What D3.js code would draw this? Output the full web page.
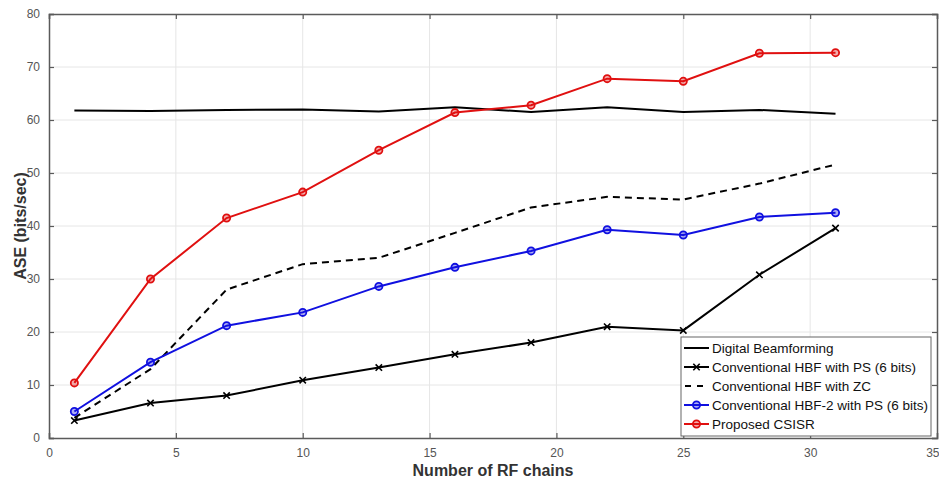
<!DOCTYPE html>
<html><head><meta charset="utf-8">
<script src="https://cdn.jsdelivr.net/npm/d3@7"></script>
<style>body{margin:0;background:#fff;}svg{display:block;font-family:"Liberation Sans",Arial,sans-serif;}</style>
</head><body>
<svg id="c" width="939" height="481"></svg>
<script>
const rfChains = [1,4,7,10,13,16,19,22,25,28,31];
const digitalBF = [61.8,61.7,61.9,62.0,61.6,62.4,61.5,62.4,61.5,61.9,61.2];
const hbfPS = [3.3,6.6,8.0,10.9,13.3,15.8,18.0,21.0,20.3,30.8,39.6];
const hbfZC = [3.8,13.0,28.0,32.8,34.0,38.7,43.5,45.5,45.0,48.0,51.6];
const hbf2PS = [5.0,14.3,21.2,23.7,28.6,32.2,35.3,39.3,38.3,41.7,42.5];
const csisr = [10.4,30.0,41.5,46.4,54.3,61.4,62.8,67.8,67.3,72.6,72.7];
const xTicks = [0,5,10,15,20,25,30,35];
const yTicks = [0,10,20,30,40,50,60,70,80];
const seriesNames = ["Digital Beamforming","Conventional HBF with PS (6 bits)","Conventional HBF with ZC","Conventional HBF-2 with PS (6 bits)","Proposed CSISR"];

const svg = d3.select("#c");
const L = 49, R = 937, T = 14, B = 438;
const x = d3.scaleLinear().domain([0,35]).range([L,R]);
const y = d3.scaleLinear().domain([0,80]).range([B,T]);

// grid
svg.append("g").selectAll("line").data(xTicks.slice(1,-1)).join("line")
  .attr("x1",d=>x(d)).attr("x2",d=>x(d)).attr("y1",T).attr("y2",B)
  .attr("stroke","#e6e6e6").attr("stroke-width",1);
svg.append("g").selectAll("line").data(yTicks.slice(1,-1)).join("line")
  .attr("x1",L).attr("x2",R).attr("y1",d=>y(d)).attr("y2",d=>y(d))
  .attr("stroke","#e6e6e6").attr("stroke-width",1);

// axes
const axColor = "#5a5a5a";
const gx = svg.append("g").attr("transform",`translate(0,${B})`)
  .call(d3.axisBottom(x).tickValues(xTicks).tickSize(-5).tickPadding(10));
const gxTop = svg.append("g").attr("transform",`translate(0,${T})`)
  .call(d3.axisTop(x).tickValues(xTicks).tickSize(-5).tickFormat(""));
const gy = svg.append("g").attr("transform",`translate(${L},0)`)
  .call(d3.axisLeft(y).tickValues(yTicks).tickSize(-5).tickPadding(9));
const gyR = svg.append("g").attr("transform",`translate(${R},0)`)
  .call(d3.axisRight(y).tickValues(yTicks).tickSize(-5).tickFormat(""));
[gx,gxTop,gy,gyR].forEach(g=>{
  g.select(".domain").attr("stroke",axColor).attr("stroke-width",1.5);
  g.selectAll(".tick line").attr("stroke",axColor).attr("stroke-width",1.2);
  g.selectAll(".tick text").attr("fill","#555").style("font-size","12px").style("font-family","Liberation Sans, Arial, sans-serif");
});
// keep the last x tick label inside the window
gx.selectAll(".tick text").filter(d=>d===35).attr("text-anchor","end").attr("dx","2");

// axis labels
svg.append("text").attr("x",493).attr("y",476).attr("text-anchor","middle")
  .style("font-size","16px").style("font-weight","bold").attr("fill","#333").text("Number of RF chains");
svg.append("text").attr("transform",`translate(26,226) rotate(-90)`).attr("text-anchor","middle")
  .style("font-size","16px").style("font-weight","bold").attr("fill","#333").text("ASE (bits/sec)");

const line = d3.line().x((d,i)=>x(rfChains[i])).y(d=>y(d));
const series = [
  {name:seriesNames[0], data:digitalBF, color:"#000", dash:null, marker:null},
  {name:seriesNames[1], data:hbfPS, color:"#000", dash:null, marker:"x"},
  {name:seriesNames[2], data:hbfZC, color:"#000", dash:"7,5", marker:null},
  {name:seriesNames[3], data:hbf2PS, color:"#1010e0", dash:null, marker:"o"},
  {name:seriesNames[4], data:csisr, color:"#e01010", dash:null, marker:"o"}
];

function drawMarker(g, type, cx, cy, color){
  if(type==="x"){
    const s=3.2;
    g.append("path").attr("d",`M${cx-s},${cy-s}L${cx+s},${cy+s}M${cx-s},${cy+s}L${cx+s},${cy-s}`)
      .attr("stroke",color).attr("stroke-width",1.6).attr("fill","none");
  } else if(type==="o"){
    g.append("circle").attr("cx",cx).attr("cy",cy).attr("r",3.6)
      .attr("stroke",color).attr("stroke-width",1.8).attr("fill",color).attr("fill-opacity",0.35);
  }
}

series.forEach(s=>{
  const g = svg.append("g");
  g.append("path").attr("d",line(s.data)).attr("fill","none").attr("stroke",s.color)
    .attr("stroke-width",2).attr("stroke-dasharray",s.dash);
  if(s.marker) s.data.forEach((v,i)=>drawMarker(g,s.marker,x(rfChains[i]),y(v),s.color));
});

// legend
const lg = svg.append("g");
lg.append("rect").attr("x",681).attr("y",337).attr("width",250).attr("height",99)
  .attr("fill","#fff").attr("stroke","#666").attr("stroke-width",1);
series.forEach((s,i)=>{
  const yy = 348 + i*19;
  lg.append("line").attr("x1",684).attr("x2",709).attr("y1",yy).attr("y2",yy)
    .attr("stroke",s.color).attr("stroke-width",2).attr("stroke-dasharray",s.dash ? "6,6" : null)
    .attr("stroke-dashoffset",s.dash ? -1 : null);
  if(s.marker) drawMarker(lg,s.marker,696.5,yy,s.color);
  lg.append("text").attr("x",712).attr("y",yy+4.5).style("font-size","13.5px").attr("fill","#111").text(s.name);
});
</script>
</body></html>
